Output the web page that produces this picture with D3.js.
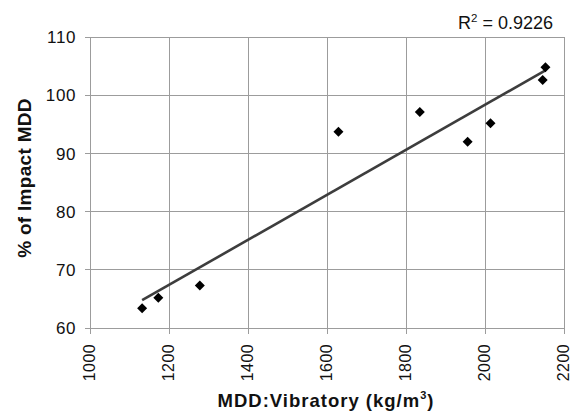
<!DOCTYPE html>
<html><head><meta charset="utf-8">
<script src="https://cdn.jsdelivr.net/npm/d3@7"></script>
<style>
html,body{margin:0;padding:0;background:#fff;}
svg{display:block;font-family:"Liberation Sans",Arial,Helvetica,sans-serif;}
</style></head>
<body>
<svg id="chart" width="572" height="416"></svg>
<script>
// Data
const vibratoryMDD = [1132, 1173, 1278, 1629, 1835, 1956, 2014, 2146, 2153];
const pctImpactMDD = [63.4, 65.2, 67.3, 93.7, 97.1, 92.0, 95.2, 102.6, 104.8];
const xTicks = [1000, 1200, 1400, 1600, 1800, 2000, 2200];
const yTicks = [60, 70, 80, 90, 100, 110];
const r2Label = "0.9226";

const svg = d3.select("#chart");
const m = {left: 90, right: 8, top: 37, bottom: 88};
const x = d3.scaleLinear().domain([1000, 2200]).range([m.left, 564]);
const y = d3.scaleLinear().domain([60, 110]).range([328, m.top]);
const grid = "#9c9c9c";

// gridlines
svg.append("g").selectAll("line").data(yTicks).join("line")
  .attr("x1", x(1000) - 5).attr("x2", x(2200))
  .attr("y1", d => y(d)).attr("y2", d => y(d))
  .attr("stroke", grid).attr("stroke-width", 1).attr("shape-rendering", "crispEdges");
svg.append("g").selectAll("line").data(xTicks).join("line")
  .attr("x1", d => x(d)).attr("x2", d => x(d))
  .attr("y1", y(110)).attr("y2", y(60) + 6)
  .attr("stroke", grid).attr("stroke-width", 1).attr("shape-rendering", "crispEdges");

// y tick labels
svg.append("g").selectAll("text").data(yTicks).join("text")
  .attr("x", 76).attr("y", d => y(d)).attr("dy", "0.36em")
  .attr("text-anchor", "end").attr("font-size", 17).attr("letter-spacing", 0.6)
  .attr("fill", "#111").text(d => d);

// x tick labels (rotated)
svg.append("g").selectAll("text").data(xTicks).join("text")
  .attr("transform", d => `translate(${x(d)},344) rotate(-90)`)
  .attr("dy", "0.34em").attr("text-anchor", "end").attr("font-size", 16)
  .attr("letter-spacing", 0.4)
  .attr("fill", "#111").text(d => d);

// regression trendline
const n = vibratoryMDD.length;
const mx = d3.mean(vibratoryMDD), my = d3.mean(pctImpactMDD);
let sxy = 0, sxx = 0;
for (let i = 0; i < n; i++) {
  sxy += (vibratoryMDD[i] - mx) * (pctImpactMDD[i] - my);
  sxx += (vibratoryMDD[i] - mx) ** 2;
}
const slope = sxy / sxx, icpt = my - slope * mx;
const [xmin, xmax] = d3.extent(vibratoryMDD);
svg.append("line")
  .attr("x1", x(xmin)).attr("y1", y(icpt + slope * xmin))
  .attr("x2", x(xmax)).attr("y2", y(icpt + slope * xmax))
  .attr("stroke", "#3d3d3d").attr("stroke-width", 2.6);

// markers (diamonds)
const sym = d3.symbol().type(d3.symbolSquare).size(50);
svg.append("g").selectAll("path").data(vibratoryMDD).join("path")
  .attr("d", sym)
  .attr("transform", (d, i) => `translate(${x(d)},${y(pctImpactMDD[i])}) rotate(45)`)
  .attr("fill", "#000");

// R^2 label
const r2 = svg.append("text").attr("x", 553).attr("y", 29)
  .attr("text-anchor", "end").attr("font-size", 18).attr("fill", "#111");
r2.append("tspan").text("R");
r2.append("tspan").attr("font-size", 11.5).attr("dy", -7).text("2");
r2.append("tspan").attr("dy", 7).text(" = " + r2Label);

// axis titles
svg.append("text")
  .attr("transform", `translate(24,178) rotate(-90)`)
  .attr("dy", "0.36em").attr("text-anchor", "middle")
  .attr("font-size", 19).attr("font-weight", "bold").attr("letter-spacing", 0.3)
  .attr("fill", "#111").text("% of Impact MDD");

const xt = svg.append("text").attr("x", 326).attr("y", 407)
  .attr("text-anchor", "middle").attr("font-size", 18.5)
  .attr("font-weight", "bold").attr("letter-spacing", 1).attr("fill", "#111");
xt.append("tspan").text("MDD:Vibratory (kg/m");
xt.append("tspan").attr("font-size", 11).attr("dy", -8).text("3");
xt.append("tspan").attr("dy", 8).text(")");
</script>
</body></html>
